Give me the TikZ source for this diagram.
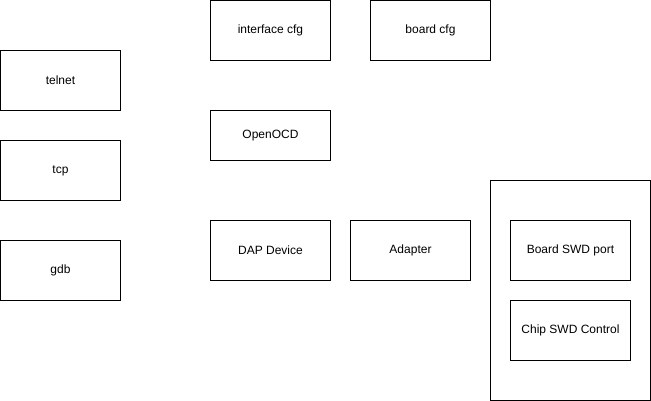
\documentclass[tikz,border=0pt]{standalone}
\usepackage{fontspec}
\setmainfont{Liberation Sans}
\usetikzlibrary{positioning}

\begin{document}
\begin{tikzpicture}[x=1pt,y=-1pt,
    blk/.style={draw,line width=1pt,minimum width=120pt,minimum height=60pt,inner sep=0pt,outer sep=0pt,font=\fontsize{12}{14}\selectfont}]
      \useasboundingbox (0,0) rectangle (651,401);
      % left column
      \node[blk](telnet) at (60.5,80.5){telnet};
      \node[blk,below=30pt of telnet](tcp){tcp};
      \node[blk,below=40pt of tcp](gdb){gdb};
      % config files
      \node[blk](ifcfg) at (270.5,30.5){interface cfg};
      \node[blk,right=40pt of ifcfg](brdcfg){board cfg};
      \node[blk,minimum height=50pt](openocd) at (270.5,135.5){OpenOCD};
      % probe chain
      \node[blk](dap) at (270.5,250.5){DAP Device};
      \node[blk,right=20pt of dap](adapter){Adapter};
      % target board
      \node[draw,line width=1pt,outer sep=0pt,minimum width=160pt,minimum height=220pt](target) at (570.5,290.5){};
      \node[blk](swdport) at (570.5,250.5){Board SWD port};
      \node[blk,below=20pt of swdport](swdctrl){Chip SWD Control};
    \end{tikzpicture}
\end{document}
